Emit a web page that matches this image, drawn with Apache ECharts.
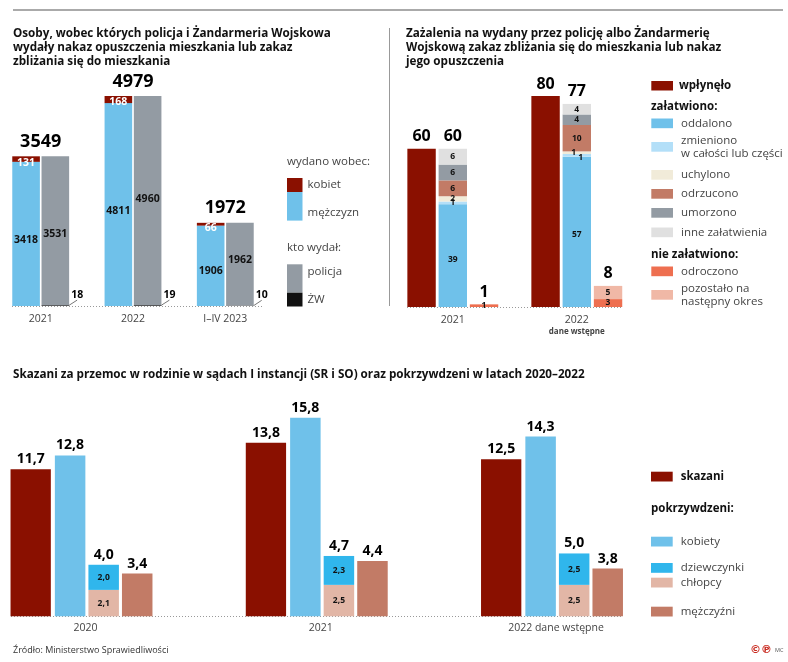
<!DOCTYPE html>
<html>
<head>
<meta charset="utf-8">
<script src="https://cdn.jsdelivr.net/npm/echarts@6/dist/echarts.min.js"></script>
<style>
html,body{margin:0;padding:0;background:#fff}
#main{width:788px;height:662px}
</style>
</head>
<body>
<div id="main"></div>
<script>
// wykres 1 - nakazy
var years1 = ['2021', '2022', 'I–IV 2023'];
var totals1 = [3549, 4979, 1972];
var kobiet = [131, 168, 66];
var mezczyzn = [3418, 4811, 1906];
var policja = [3531, 4960, 1962];
var zw = [18, 19, 10];
// wykres 2 - zazalenia
var years2 = ['2021', '2022'];
var wplynelo = [60, 80];
var zalatwionoTotals = [60, 77];
var oddalono = [39, 57];
var zmieniono = [1, 1];
var uchylono = [2, 1];
var odrzucono = [6, 10];
var umorzono = [6, 4];
var inne = [6, 4];
var nieTotals = [1, 8];
var odroczono = [1, 3];
var pozostalo = [0, 5];
// wykres 3 - skazani
var years3 = ['2020', '2021', '2022 dane wstępne'];
var skazani = [11.7, 13.8, 12.5];
var kobiety = [12.8, 15.8, 14.3];
var dzieciTotals = [4.0, 4.7, 5.0];
var chlopcy = [2.1, 2.5, 2.5];
var dziewczynki = [2.0, 2.3, 2.5];
var mezczyzni = [3.4, 4.4, 3.8];

var RED = '#8a1000', BLUE = '#6fc1ea', GRAY = '#939ba3', BROWN = '#c27b66';
var FONT = '"Open Sans", sans-serif';
var INK = '#111', SOFT = '#444';

function pl(v) { return v.toFixed(1).replace('.', ','); }

// przesuniecia etykiet punkt po punkcie
function nudged(values, dx, dy) {
    return values.map(function (v, i) {
        return { value: v, label: { offset: [dx ? dx[i] : 0, dy ? dy[i] : 0] } };
    });
}

function bar(name, data, stack, axis, color, width, label) {
    return {
        type: 'bar', name: name, data: data, stack: stack, clip: false,
        xAxisIndex: axis, yAxisIndex: axis,
        barWidth: width, barGap: axis === 0 ? '6%' : '10%',
        itemStyle: { color: color },
        label: Object.assign({
            show: !!label, position: 'inside', color: INK, fontFamily: FONT, fontWeight: 700, fontSize: 9,
            formatter: function (p) { return p.value === 0 ? '' : (axis === 2 ? pl(p.value) : p.value); }
        }, label || {}),
        emphasis: { disabled: true }
    };
}

// pusty segment na szczycie stosu, niesie tylko sume
function topLabel(values, stack, axis, fontSize, width, distance, fmt) {
    return {
        type: 'bar', data: values.map(function () { return 0; }), stack: stack, clip: false,
        xAxisIndex: axis, yAxisIndex: axis, barWidth: width,
        barGap: axis === 0 ? '6%' : '10%',
        itemStyle: { color: 'transparent' },
        label: {
            show: true, position: 'top', distance: distance, color: '#000', fontFamily: FONT, fontWeight: 700, fontSize: fontSize,
            formatter: function (p) { return fmt ? fmt(values[p.dataIndex]) : values[p.dataIndex]; }
        },
        emphasis: { disabled: true }
    };
}

function legendItem(name, left, top, w, h, opts) {
    opts = opts || {};
    var pad = opts.gap || 0;
    var color = opts.bold ? INK : SOFT, weight = opts.bold ? 700 : 400;
    return {
        data: [name], left: left, top: h < 13 ? top - (13 - h) / 2 : top, orient: 'vertical', padding: 0,
        itemWidth: w, itemHeight: h, itemGap: 0, selectedMode: false,
        icon: 'rect', itemStyle: { borderWidth: 0 },
        formatter: function (n) {
            var lines = n.split('\n').map(function (l) { return '{a|' + l + '}'; }).join('\n');
            if (opts.shift === 'down') return '{a| }\n' + lines;
            if (opts.shift === 'up') return lines + '\n{a| }';
            return lines;
        },
        textStyle: {
            color: color, fontFamily: FONT, fontSize: 11.5, fontWeight: weight, lineHeight: 13,
            rich: { a: { color: color, fontFamily: FONT, fontSize: 11.5, fontWeight: weight, lineHeight: 13, padding: [0, 0, 0, pad] } }
        }
    };
}

function text(str, x, y, extra) {
    return {
        type: 'text', x: x, y: y, silent: true,
        style: Object.assign({
            text: str, fill: SOFT, font: '400 11.5px ' + FONT, textVerticalAlign: 'middle'
        }, extra || {})
    };
}

function rule(x1, y1, x2, y2, stroke, width, dash) {
    return {
        type: 'line', silent: true, shape: { x1: x1, y1: y1, x2: x2, y2: y2 },
        style: { stroke: stroke, lineWidth: width, lineDash: dash || null }
    };
}

function titleBlock(str, left, top) {
    return {
        text: str, left: left, top: top, padding: 0,
        textStyle: { color: INK, fontFamily: FONT, fontWeight: 700, fontSize: 11.7, lineHeight: 14 }
    };
}

// boundaryGap false: kategorie leza na krawedziach siatki, wiec siatka biegnie od srodka do srodka grup
function xAxis(cats, grid, extra) {
    return {
        type: 'category', data: cats, gridIndex: grid, boundaryGap: false,
        axisLine: { show: false }, axisTick: { show: false },
        axisLabel: Object.assign({ color: SOFT, fontFamily: FONT, fontSize: 10.5, margin: 8, interval: 0, showMinLabel: true, showMaxLabel: true }, extra || {})
    };
}

function yAxis(max, grid) {
    return { type: 'value', min: 0, max: max, gridIndex: grid, show: false };
}

var series = [
    bar('mężczyzn', nudged(mezczyzn, [0, 0, 0], [6, 6.5, 5]), 'wobec', 0, BLUE, 27.6, { fontSize: 10.5 }),
    bar('kobiet', nudged(kobiet, [0, 0, 0], [3.5, 2, 4]), 'wobec', 0, RED, 27.6, { fontSize: 10.5, color: '#fff' }),
    {
        type: 'bar', name: 'ŻW', data: zw, stack: 'kto', xAxisIndex: 0, yAxisIndex: 0, clip: false,
        barWidth: 27.6, barGap: '6%', itemStyle: { color: '#111' }, emphasis: { disabled: true },
        label: { show: true, position: 'right', distance: 0, color: '#000', fontFamily: FONT, fontWeight: 700, fontSize: 10.5 },
        labelLayout: { dx: 2, dy: -11 },
        labelLine: { show: true, lineStyle: { color: '#777', width: 1 } }
    },
    bar('policja', nudged(policja, [0, 0, 0], [3, -2, -4]), 'kto', 0, GRAY, 27.6, { fontSize: 10.5 }),
    {
        type: 'line', data: totals1, xAxisIndex: 0, yAxisIndex: 0, symbol: 'circle', symbolSize: 1, showAllSymbol: true,
        itemStyle: { color: 'transparent' }, lineStyle: { width: 0, opacity: 0 }, silent: true, z: 5, clip: false,
        label: { show: true, position: 'top', distance: 5, color: '#000', fontFamily: FONT, fontWeight: 700, fontSize: 18 }
    },

    bar('wpłynęło', wplynelo, 'wp', 1, RED, 28.4),
    topLabel(wplynelo, 'wp', 1, 16, 28.4, 4),
    bar('oddalono', nudged(oddalono, [0, 0], [4, 3]), 'zal', 1, BLUE, 28.4, { fontSize: 8.5 }),
    bar('zmieniono\nw całości lub części', nudged(zmieniono, [0, 4], [0, 2]), 'zal', 1, '#b3dff8', 28.4, { fontSize: 8.5 }),
    bar('uchylono', nudged(uchylono, [0, -3], [0, 0]), 'zal', 1, '#f1ebd9', 28.4, { fontSize: 8.5 }),
    bar('odrzucono', odrzucono, 'zal', 1, BROWN, 28.4, { fontSize: 8.5 }),
    bar('umorzono', umorzono, 'zal', 1, GRAY, 28.4, { fontSize: 8.5 }),
    bar('inne załatwienia', inne, 'zal', 1, '#e0e0e0', 28.4, { fontSize: 8.5 }),
    topLabel(zalatwionoTotals, 'zal', 1, 16, 28.4, 4),
    bar('odroczono', odroczono, 'nie', 1, '#ee6f50', 28.4, { fontSize: 8.5 }),
    bar('pozostało na\nnastępny okres', pozostalo, 'nie', 1, '#f0b8a6', 28.4, { fontSize: 8.5 }),
    topLabel(nieTotals, 'nie', 1, 16, 28.4, 4),

    bar('skazani', skazani, 'sk', 2, RED, 40.3),
    topLabel(skazani, 'sk', 2, 14, 40.3, 3, pl),
    bar('kobiety', kobiety, 'ko', 2, BLUE, 30.5),
    topLabel(kobiety, 'ko', 2, 14, 30.5, 3, pl),
    bar('chłopcy', chlopcy, 'dz', 2, '#e2b6a6', 30.5, { fontSize: 8.5 }),
    bar('dziewczynki', dziewczynki, 'dz', 2, '#30b6ec', 30.5, { fontSize: 8.5 }),
    topLabel(dzieciTotals, 'dz', 2, 14, 30.5, 3, pl),
    bar('mężczyźni', mezczyzni, 'me', 2, BROWN, 30.5),
    topLabel(mezczyzni, 'me', 2, 14, 30.5, 3, pl)
];

var option = {
    animation: false,
    backgroundColor: '#fff',
    title: [
        titleBlock('Osoby, wobec których policja i Żandarmeria Wojskowa\nwydały nakaz opuszczenia mieszkania lub zakaz\nzbliżania się do mieszkania', 13, 27),
        titleBlock('Zażalenia na wydany przez policję albo Żandarmerię\nWojskową zakaz zbliżania się do mieszkania lub nakaz\njego opuszczenia', 406, 27),
        titleBlock('Skazani za przemoc w rodzinie w sądach I instancji (SR i SO) oraz pokrzywdzeni w latach 2020–2022', 13, 368)
    ],
    grid: [
        { left: 40.7, width: 184.6, top: 96, height: 210 },
        { left: 452.8, width: 124, top: 96, height: 211 },
        { left: 81.5, width: 470.5, top: 417.7, height: 198.6 }
    ],
    xAxis: [
        xAxis(years1, 0),
        xAxis(years2, 1, {
            formatter: function (v) { return v === '2022' ? v + '\n{sub|dane wstępne}' : v; },
            rich: { sub: { fontFamily: FONT, fontSize: 8, fontWeight: 700, color: SOFT, padding: [2, 0, 0, 0] } }
        }),
        xAxis(years3, 2, { margin: 6, padding: [0, 0, 0, 8] })
    ],
    yAxis: [yAxis(4979, 0), yAxis(80, 1), yAxis(15.8, 2)],
    legend: [
        legendItem('kobiet', 287, 178, 15.5, 14),
        legendItem('mężczyzn', 287, 192, 15.5, 28.6, { shift: 'down' }),
        legendItem('policja', 287, 264.3, 15.5, 28.4, { shift: 'up' }),
        legendItem('ŻW', 287, 292.7, 15.5, 13.8),

        legendItem('wpłynęło', 651.3, 81, 21.7, 9.5, { bold: true, gap: 1 }),
        legendItem('oddalono', 651.3, 118.5, 21.7, 9.7, { gap: 3 }),
        legendItem('zmieniono\nw całości lub części', 651.3, 135.5, 21.7, 9.7, { gap: 3 }),
        legendItem('uchylono', 651.3, 170, 21.7, 9.7, { gap: 3 }),
        legendItem('odrzucono', 651.3, 189, 21.7, 9.7, { gap: 3 }),
        legendItem('umorzono', 651.3, 208, 21.7, 9.7, { gap: 3 }),
        legendItem('inne załatwienia', 651.3, 227.5, 21.7, 9.7, { gap: 3 }),
        legendItem('odroczono', 651.3, 266.5, 21.7, 9.7, { gap: 3 }),
        legendItem('pozostało na\nnastępny okres', 651.3, 283.5, 21.7, 9.7, { gap: 3 }),

        legendItem('skazani', 651, 471.7, 21.7, 9.8, { bold: true, gap: 3 }),
        legendItem('kobiety', 651, 536.7, 21.7, 9.8, { gap: 3 }),
        legendItem('dziewczynki', 651, 563, 21.7, 9.8, { gap: 3 }),
        legendItem('chłopcy', 651, 577.7, 21.7, 9.8, { gap: 3 }),
        legendItem('mężczyźni', 651, 606.7, 21.7, 9.8, { gap: 3 })
    ],
    series: series,
    graphic: [
        rule(13, 10, 783, 10, '#aaaaaa', 2),
        rule(389.5, 28, 389.5, 306, '#999999', 1),
        rule(12, 306.5, 262, 306.5, '#999999', 1, [1, 2]),
        rule(407, 307.5, 622, 307.5, '#999999', 1, [1, 2]),
        rule(11, 616.5, 622, 616.5, '#999999', 1, [1, 2]),
        text('wydano wobec:', 287, 162),
        text('kto wydał:', 287, 248),
        text('załatwiono:', 651, 107, { fill: INK, font: '700 11.5px ' + FONT }),
        text('nie załatwiono:', 651, 255, { fill: INK, font: '700 11.5px ' + FONT }),
        text('pokrzywdzeni:', 651, 509, { fill: INK, font: '700 11.5px ' + FONT }),
        text('Źródło: Ministerstwo Sprawiedliwości', 13, 650, { font: '400 9px ' + FONT, fill: '#333' }),
        text('©℗', 750, 650, { font: '700 11px "DejaVu Sans"', fill: '#c8281e' }),
        text('MC', 775, 650, { font: '400 5.5px ' + FONT, fill: '#555' })
    ]
};

var chart = echarts.init(document.getElementById('main'), null, { renderer: 'canvas' });
chart.setOption(option);
</script>
</body>
</html>
